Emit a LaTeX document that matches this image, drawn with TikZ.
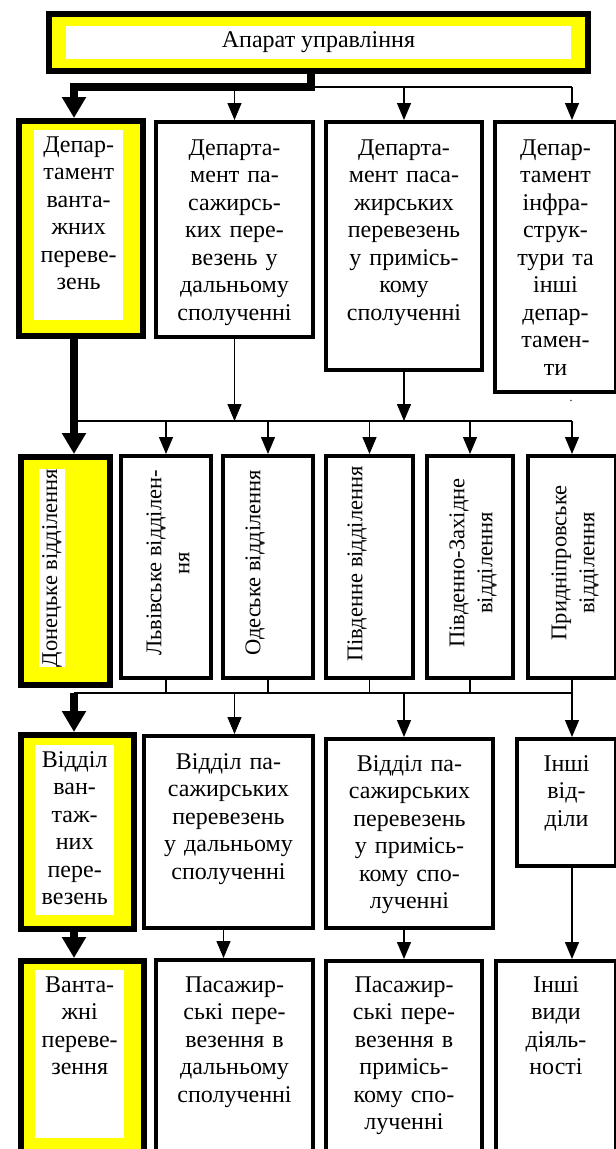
\documentclass[tikz,border=0pt]{standalone}
\usepackage{fontspec}
\setmainfont{Liberation Serif}
\usepackage{tikz}
\usetikzlibrary{arrows.meta}
\definecolor{hilite}{RGB}{255,255,0}
\newcommand{\bigfont}{\fontsize{24}{27.5}\selectfont}
\newcommand{\sidefont}{\fontsize{22.5}{28}\selectfont}

\begin{document}
\begin{tikzpicture}[x=1pt, y=-1pt,
  frame/.style={draw, line width=4pt, fill=white, anchor=north west, inner sep=0pt},
  box/.style={frame, align=center, font=\bigfont, text height=33pt},
  gold/.style={draw, line width=6pt, fill=hilite, anchor=north west, inner sep=0pt},
  pane/.style={fill=white, anchor=north west, align=center, font=\bigfont,
               inner sep=0pt, text height=22pt},
  turned/.style={rotate=90, align=center, font=\sidefont, inner sep=0pt},
  wire/.style={line width=1.3pt},
  arr/.style={-{Triangle[length=17pt, width=14pt]}, line width=1.3pt},
  bigarr/.style={-{Triangle[length=21pt, width=23pt]}, line width=8pt}]

\useasboundingbox (0,0) rectangle (616,1149);

% top
\node[gold, minimum width=539pt, minimum height=57pt] (appar) at (46,11) {};
\node[fill=white, minimum width=505pt, minimum height=33pt, inner sep=0pt,
      font=\bigfont] (apparin) at (appar.center) {Апарат управління};

% departments
\node[gold, minimum width=124pt, minimum height=215pt] (d1) at (16,118) {};
\node[pane, text width=89pt, text depth=168pt] (d1in) at (34,130)
  {Депар-\\тамент\\ванта-\\жних\\переве-\\зень};
\node[box, text width=157pt, text depth=182pt] (d2) at (154,120)
  {Департа-\\мент па-\\сажирсь-\\ких пере-\\везень у\\дальньому\\сполученні};
\node[box, text width=156pt, text depth=215pt] (d3) at (324,120)
  {Департа-\\мент паса-\\жирських\\перевезень\\у примісь-\\кому\\сполученні};
\node[box, text width=121pt, text depth=237pt] (d4) at (493,120)
  {Депар-\\тамент\\інфра-\\струк-\\тури та\\інші\\депар-\\тамен-\\ти};
\node[font=\fontsize{12}{14}\selectfont, inner sep=0pt, anchor=base] (dot) at (571,401) {.};

% branches
\node[gold, minimum width=89pt, minimum height=228pt] (v1) at (18,454) {};
\node[turned, fill=white, inner ysep=3pt] (v1t) at (52,568) {Донецьке відділення};
\node[frame, minimum width=90pt, minimum height=222pt] (v2) at (119,454) {};
\node[turned] (v2t) at (168,563) {Львівське відділен-\\ня};
\node[frame, minimum width=90pt, minimum height=222pt] (v3) at (221,454) {};
\node[turned] (v3t) at (255,563) {Одеське відділення};
\node[frame, minimum width=87pt, minimum height=222pt] (v4) at (324,454) {};
\node[turned] (v4t) at (357,564) {Південне відділення};
\node[frame, minimum width=86pt, minimum height=222pt] (v5) at (425,454) {};
\node[turned] (v5t) at (473,563) {Південно-Західне\\відділення};
\node[frame, minimum width=88pt, minimum height=222pt] (v6) at (526,454) {};
\node[turned] (v6t) at (575,563) {Придніпровське\\відділення};

% sections
\node[gold, minimum width=113pt, minimum height=194pt] (o1) at (18,732) {};
\node[pane, text width=79pt, text depth=148pt] (o1in) at (35,745)
  {Відділ\\ван-\\таж-\\них\\пере-\\везень};
\node[box, text width=169pt, text depth=159pt] (o2) at (142,734)
  {Відділ па-\\сажирських\\перевезень\\у дальньому\\сполученні};
\node[box, text width=167pt, text height=32pt, text depth=157pt] (o3) at (324,737)
  {Відділ па-\\сажирських\\перевезень\\у примісь-\\кому спо-\\лученні};
\node[box, text width=99pt, text height=32pt, text depth=95pt] (o4) at (515,737)
  {Інші\\від-\\діли};

% activities
\node[gold, minimum width=123pt, minimum height=202pt] (p1) at (18,958) {};
\node[pane, text width=89pt, text depth=146pt] (p1in) at (35,970)
  {Ванта-\\жні\\переве-\\зення};
\node[box, text width=157pt, text height=32pt, text depth=168pt] (p2) at (154,958)
  {Пасажир-\\ські пере-\\везення в\\дальньому\\сполученні};
\node[box, text width=156pt, text height=31pt, text depth=169pt] (p3) at (324,959)
  {Пасажир-\\ські пере-\\везення в\\примісь-\\кому спо-\\лученні};
\node[box, text width=120pt, text height=31pt, text depth=169pt] (p4) at (494,959)
  {Інші\\види\\діяль-\\ності};

\coordinate (k0) at (311,87);
\coordinate (k1) at (74,87);
\coordinate (m0) at (74,421);
\coordinate (n0) at (74,693);

\draw[bigarr] (appar.south -| k0) -- (k0) -- (k1) -- (k1 |- d1.north);
\draw[wire] (k0) -- (k0 -| v6);
\draw[arr] (k0 -| d2) -- (d2.north);
\draw[arr] (k0 -| d3) -- (d3.north);
\draw[arr] (k0 -| v6) -- (d4.north -| v6);

\draw[bigarr] (d1.south -| m0) -- (m0 |- v1.north);
\draw[wire] (m0) -- (m0 -| v6);
\draw[arr] (d2.south) -- (d2.south |- m0);
\draw[arr] (d3.south) -- (d3.south |- m0);
\foreach \nm in {v2,v3,v4,v5,v6}
  \draw[arr] (m0 -| \nm.north) -- (\nm.north);

\draw[wire] (n0) -- (n0 -| v6);
\foreach \nm in {v2,v3,v4,v5,v6}
  \draw[wire] (\nm.south) -- (\nm.south |- n0);
\draw[bigarr] (n0) -- (n0 |- o1.north);
\draw[arr] (n0 -| d2) -- (o2.north -| d2);
\draw[arr] (n0 -| d3) -- (o3.north -| d3);
\draw[arr] (n0 -| v6) -- (o4.north -| v6);

\draw[bigarr] (o1.south -| n0) -- (p1.north -| n0);
\draw[arr] ([xshift=-5pt]o2.south) -- ([xshift=-5pt]o2.south |- p2.north);
\draw[arr] (o3.south -| p3) -- (p3.north);
\draw[arr] (o4.south -| v6) -- (p4.north -| v6);
\end{tikzpicture}
\end{document}
